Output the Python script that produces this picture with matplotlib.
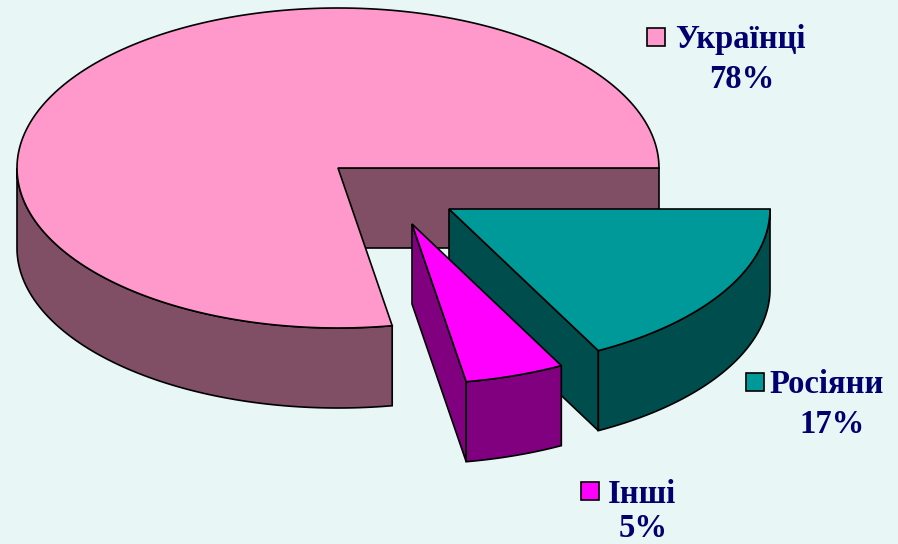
"""Exploded 3D-style pie chart of population by nationality."""

import numpy as np
import matplotlib
matplotlib.use('Agg')
import matplotlib.pyplot as plt
from matplotlib.patches import Polygon, Rectangle

# Data
labels = ['Українці', 'Росіяни', 'Інші']
percent_labels = ['78%', '17%', '5%']
# shares as measured from the slice angles, the labels round them
shares = [77.7, 17.3, 5.0]

# Styles, same order as the data
top_colors = ['#FF99CC', '#009999', '#FF00FF']
side_colors = ['#804F66', '#004D4D', '#800080']
centers = [(338, 168), (449, 209), (412, 224)]
legend_pos = [(656, 37), (755, 382), (590, 491)]
label_pos = [(740, 48), (827, 393), (642, 503)]
value_pos = [(742, 88), (832, 433), (643, 537)]

RX, RY, DEPTH = 321, 160, 80
BG = '#E9F6F6'
TEXT = '#00006E'

fig = plt.figure(figsize=(8.98, 5.44), dpi=100, facecolor=BG)
ax = fig.add_axes([0, 0, 1, 1])
ax.set_xlim(0, 898)
ax.set_ylim(544, 0)
ax.axis('off')


def arc(center, a1, a2, drop=0):
    """Points on the pie ellipse between two angles in degrees."""
    t = np.radians(np.linspace(a1, a2, 200))
    return np.column_stack([center[0] + RX * np.cos(t),
                            center[1] - RY * np.sin(t) + drop])


def cut_face(center, angle, side, z):
    edge = arc(center, angle, angle)[0]
    cut = [center, edge, edge + [0, DEPTH], (center[0], center[1] + DEPTH)]
    ax.add_patch(Polygon(cut, facecolor=side, edgecolor='black', lw=1.2, zorder=z))


def draw_slice(center, a1, a2, top, side, z):
    # the flat cut faces, only where they look to the viewer
    if np.cos(np.radians(a1)) > 0:
        cut_face(center, a1, side, z)
    if np.cos(np.radians(a2)) < 0:
        cut_face(center, a2, side, z)
    # outer wall, the part on the front half of the ellipse
    lo, hi = max(a1, 180), min(a2, 360)
    if hi > lo:
        wall = np.vstack([arc(center, lo, hi), arc(center, hi, lo, DEPTH)])
        ax.add_patch(Polygon(wall, facecolor=side, edgecolor='black', lw=1.2, zorder=z + 1))
    surface = np.vstack([[center], arc(center, a1, a2)])
    ax.add_patch(Polygon(surface, facecolor=top, edgecolor='black', lw=1.2, zorder=z + 2))


# Ukrainians run round from the east point, Others next, Russians last
a_main = shares[0] * 3.6
a_other = a_main + shares[2] * 3.6
draw_slice(centers[0], 0, a_main, top_colors[0], side_colors[0], 1)
draw_slice(centers[1], a_other, 360, top_colors[1], side_colors[1], 5)
draw_slice(centers[2], a_main, a_other, top_colors[2], side_colors[2], 9)

# Labels
font = {'family': 'Liberation Serif', 'weight': 'bold', 'size': 23.5, 'color': TEXT}
for i, name in enumerate(labels):
    x, y = legend_pos[i]
    ax.add_patch(Rectangle((x - 9, y - 9), 18, 18, facecolor=top_colors[i],
                           edgecolor='black', lw=1.2, zorder=20))
    ax.text(label_pos[i][0], label_pos[i][1], name, ha='center', va='baseline', **font)
    ax.text(value_pos[i][0], value_pos[i][1], percent_labels[i], ha='center', va='baseline', **font)

fig.savefig('out.png', dpi=100, facecolor=BG)
